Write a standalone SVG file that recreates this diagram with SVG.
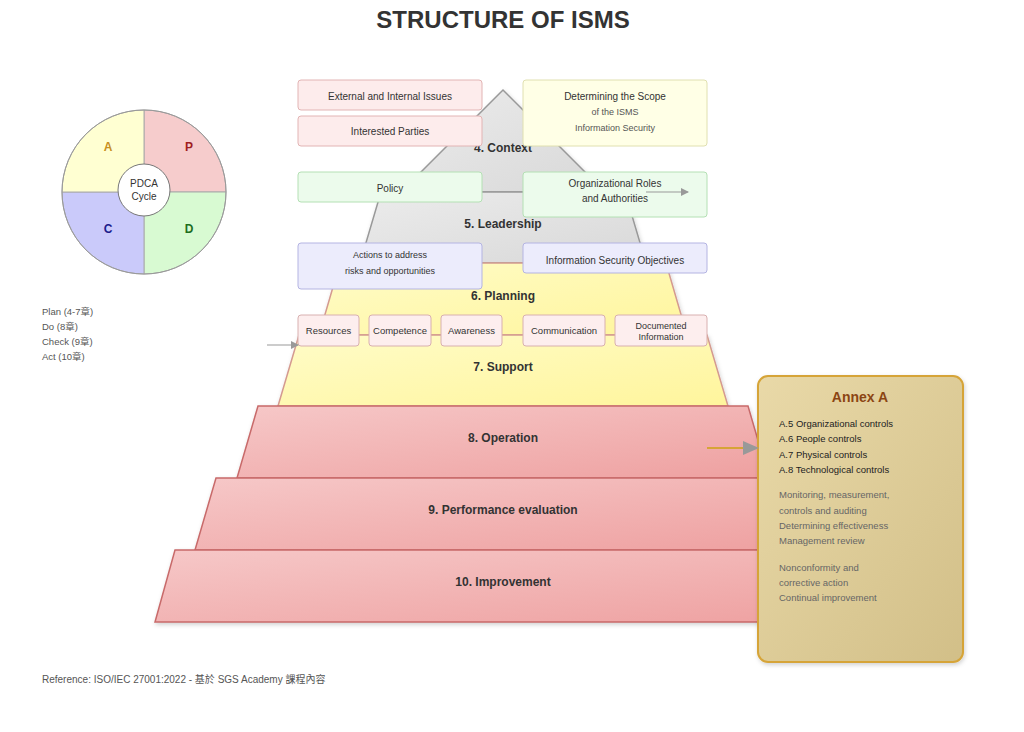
<svg xmlns="http://www.w3.org/2000/svg" width="1024" height="732" viewBox="0 0 1024 732">
<style>
text{font-family:"Liberation Sans",Arial,"Noto Sans CJK TC",sans-serif;}
.title{font-size:24px;font-weight:bold;fill:#333;text-anchor:middle;}
.lay{font-size:12px;font-weight:bold;fill:#333;text-anchor:middle;}
.bt{font-size:10px;fill:#333;text-anchor:middle;}
.bs{font-size:9px;fill:#555;text-anchor:middle;}
.sm{font-size:9.5px;fill:#333;text-anchor:middle;}
.leg{font-size:9.5px;fill:#555;}
.an{font-size:9.5px;fill:#222;}
.ag{font-size:9.5px;fill:#666;}
.gray{fill:url(#gGray);stroke:#999;stroke-width:1.5;}
.yel{fill:url(#gYel);stroke:#d49a90;stroke-width:1.5;}
.red{fill:url(#gRed);stroke:#c86a6a;stroke-width:1.5;}
.bpink{fill:#fdecec;stroke:#e2b4b4;stroke-width:1;}
.byel{fill:#ffffe6;stroke:#e0e0b0;stroke-width:1;}
.bgrn{fill:#ecfbec;stroke:#b4e0b4;stroke-width:1;}
.bblu{fill:#ececfc;stroke:#b4b4e2;stroke-width:1;}
.bsup{fill:#fdeeee;stroke:#d8b0b0;stroke-width:1;}
.pd{font-size:12px;font-weight:bold;text-anchor:middle;}
</style>
<defs>
<linearGradient id="gGray" x1="0" y1="0" x2="1" y2="1"><stop offset="0" stop-color="#ececec"/><stop offset="1" stop-color="#d8d8d8"/></linearGradient>
<linearGradient id="gYel" x1="0" y1="0" x2="1" y2="1"><stop offset="0" stop-color="#fffcc8"/><stop offset="1" stop-color="#fff59c"/></linearGradient>
<linearGradient id="gRed" x1="0" y1="0" x2="1" y2="1"><stop offset="0" stop-color="#f6c8c8"/><stop offset="1" stop-color="#eea0a0"/></linearGradient>
<linearGradient id="gAnn" x1="0" y1="0" x2="1" y2="1"><stop offset="0" stop-color="#e9d9a8"/><stop offset="1" stop-color="#d2bf88"/></linearGradient>
<filter id="sh" x="-10%" y="-10%" width="120%" height="130%"><feDropShadow dx="1" dy="2" stdDeviation="2" flood-color="#000" flood-opacity="0.18"/></filter>
<marker id="arrG" markerWidth="8" markerHeight="8" refX="7" refY="4" orient="auto" markerUnits="userSpaceOnUse"><path d="M0,0 L8,4 L0,8 Z" fill="#999"/></marker>
<marker id="arrB" markerWidth="16" markerHeight="14" refX="15" refY="7" orient="auto" markerUnits="userSpaceOnUse"><path d="M0,0 L16,7 L0,14 Z" fill="#999"/></marker>
</defs>
<rect width="1024" height="732" fill="#fff"/>
<text class="title" x="503" y="28">STRUCTURE OF ISMS</text>

<g id="pyramid" filter="url(#sh)">
<polygon id="layer4" class="gray" points="503,90 605,192 401,192"/>
<polygon id="layer5" class="gray" points="381,192 625,192 646,263 360,263"/>
<polygon id="layer6" class="yel" points="340,263 666,263 687,335 319,335"/>
<polygon id="layer7" class="yel" points="299,335 707,335 728,406 278,406"/>
<polygon id="layer8" class="red" points="258,406 748,406 769,478 237,478"/>
<polygon id="layer9" class="red" points="216,478 790,478 811,550 195,550"/>
<polygon id="layer10" class="red" points="175,550 831,550 851,622 155,622"/>
</g>
<g id="layer-labels">
<text class="lay" x="503" y="152">4. Context</text>
<text class="lay" x="503" y="228">5. Leadership</text>
<text class="lay" x="503" y="300">6. Planning</text>
<text class="lay" x="503" y="371">7. Support</text>
<text class="lay" x="503" y="442">8. Operation</text>
<text class="lay" x="503" y="514">9. Performance evaluation</text>
<text class="lay" x="503" y="586">10. Improvement</text>
</g>

<g id="box-issues"><rect class="bpink" x="298" y="80" width="184" height="30" rx="3"/><text class="bt" x="390" y="100">External and Internal Issues</text></g>
<g id="box-parties"><rect class="bpink" x="298" y="116" width="184" height="30" rx="3"/><text class="bt" x="390" y="135">Interested Parties</text></g>
<g id="box-scope"><rect class="byel" x="523" y="80" width="184" height="66" rx="3"/><text class="bt" x="615" y="100">Determining the Scope</text><text class="bs" x="615" y="115">of the ISMS</text><text class="bs" x="615" y="131">Information Security</text></g>
<g id="box-policy"><rect class="bgrn" x="298" y="172" width="184" height="30" rx="3"/><text class="bt" x="390" y="192">Policy</text></g>
<g id="box-roles"><rect class="bgrn" x="523" y="172" width="184" height="45" rx="3"/><text class="bt" x="615" y="187">Organizational Roles</text><text class="bt" x="615" y="202">and Authorities</text></g>
<g id="box-risks"><rect class="bblu" x="298" y="243" width="184" height="46" rx="3"/><text class="bs" x="390" y="258" style="fill:#333">Actions to address</text><text class="bs" x="390" y="274" style="fill:#333">risks and opportunities</text></g>
<g id="box-objectives"><rect class="bblu" x="523" y="243" width="184" height="30" rx="3"/><text class="bt" x="615" y="264">Information Security Objectives</text></g>
<g id="box-resources"><rect class="bsup" x="298" y="315" width="61" height="31" rx="3"/><text class="sm" x="328.5" y="334">Resources</text></g>
<g id="box-competence"><rect class="bsup" x="369" y="315" width="62" height="31" rx="3"/><text class="sm" x="400" y="334">Competence</text></g>
<g id="box-awareness"><rect class="bsup" x="441" y="315" width="61" height="31" rx="3"/><text class="sm" x="471.5" y="334">Awareness</text></g>
<g id="box-communication"><rect class="bsup" x="523" y="315" width="82" height="31" rx="3"/><text class="sm" x="564" y="334">Communication</text></g>
<g id="box-documented"><rect class="bsup" x="615" y="315" width="92" height="31" rx="3"/><text class="bs" x="661" y="329" style="fill:#333">Documented</text><text class="bs" x="661" y="340" style="fill:#333">Information</text></g>

<g id="annex" filter="url(#sh)">
<rect x="758" y="376" width="205" height="286" rx="10" fill="url(#gAnn)" stroke="#d6a437" stroke-width="2"/>
</g>
<g id="annex-text">
<text x="860" y="402" style="font-size:14px;font-weight:bold;fill:#8b4513;text-anchor:middle">Annex A</text>
<text class="an" x="779" y="427">A.5 Organizational controls</text>
<text class="an" x="779" y="442">A.6 People controls</text>
<text class="an" x="779" y="458">A.7 Physical controls</text>
<text class="an" x="779" y="473">A.8 Technological controls</text>
<text class="ag" x="779" y="498">Monitoring, measurement,</text>
<text class="ag" x="779" y="514">controls and auditing</text>
<text class="ag" x="779" y="529">Determining effectiveness</text>
<text class="ag" x="779" y="544">Management review</text>
<text class="ag" x="779" y="571">Nonconformity and</text>
<text class="ag" x="779" y="586">corrective action</text>
<text class="ag" x="779" y="601">Continual improvement</text>
</g>

<g id="connectors">
<line x1="646" y1="192" x2="688" y2="192" stroke="#999" stroke-width="1" marker-end="url(#arrG)"/>
<line x1="267" y1="345" x2="298" y2="345" stroke="#999" stroke-width="1" marker-end="url(#arrG)"/>
<line x1="707" y1="448" x2="744" y2="448" stroke="#d6a437" stroke-width="2"/>
<path d="M743,441 L759,448 L743,455 Z" fill="#999"/>
</g>

<g id="pdca">
<path d="M144,192 L144,110 A82,82 0 0 1 226,192 Z" fill="#f6cccc" stroke="#aaa" stroke-width="1"/>
<path d="M144,192 L226,192 A82,82 0 0 1 144,274 Z" fill="#d8fad2" stroke="#aaa" stroke-width="1"/>
<path d="M144,192 L144,274 A82,82 0 0 1 62,192 Z" fill="#cacafa" stroke="#aaa" stroke-width="1"/>
<path d="M144,192 L62,192 A82,82 0 0 1 144,110 Z" fill="#ffffd2" stroke="#aaa" stroke-width="1"/>
<circle cx="144" cy="192" r="82" fill="none" stroke="#999" stroke-width="1"/>
<circle cx="144" cy="190" r="26" fill="#fff" stroke="#777" stroke-width="1"/>
<text class="bt" x="144" y="187">PDCA</text>
<text class="bt" x="144" y="200">Cycle</text>
<text class="pd" x="108" y="151" fill="#c8901e">A</text>
<text class="pd" x="189" y="151" fill="#a01e1e">P</text>
<text class="pd" x="108" y="233" fill="#1c1c8c">C</text>
<text class="pd" x="189" y="233" fill="#1e6e1e">D</text>
</g>

<g id="legend">
<text class="leg" x="42" y="315">Plan (4-7章)</text>
<text class="leg" x="42" y="330">Do (8章)</text>
<text class="leg" x="42" y="345">Check (9章)</text>
<text class="leg" x="42" y="360">Act (10章)</text>
</g>
<text x="42" y="683" style="font-size:10px;fill:#555">Reference: ISO/IEC 27001:2022 - 基於 SGS Academy 課程內容</text>
</svg>
